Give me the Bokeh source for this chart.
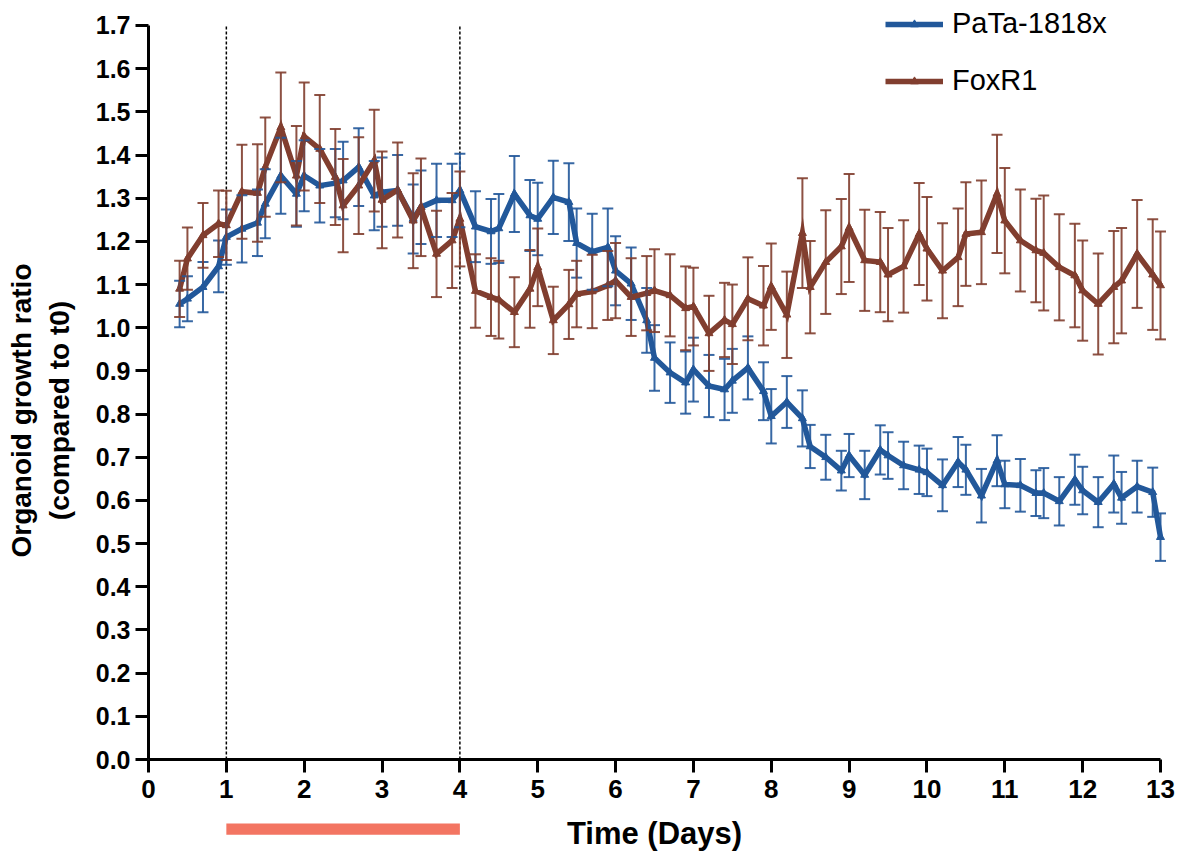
from bokeh.plotting import figure
from bokeh.models import (ColumnDataSource, Range1d, FixedTicker, PrintfTickFormatter,
                          Whisker, TeeHead, Legend, LegendItem, LinearAxis)
from bokeh.embed import file_html
from bokeh.resources import INLINE

# ---------------- data ----------------
times = [0.4, 0.5, 0.7, 0.9,
         1.0, 1.2, 1.4, 1.5, 1.7, 1.9,
         2.0, 2.2, 2.4, 2.5, 2.7, 2.9,
         3.0, 3.2, 3.4, 3.5, 3.7, 3.9,
         4.0, 4.2, 4.4, 4.5, 4.7, 4.9,
         5.0, 5.2, 5.4, 5.5, 5.7, 5.9,
         6.0, 6.2, 6.4, 6.5, 6.7, 6.9,
         7.0, 7.2, 7.4, 7.5, 7.7, 7.9,
         8.0, 8.2, 8.4, 8.5, 8.7, 8.9,
         9.0, 9.2, 9.4, 9.5, 9.7, 9.9,
         10.0, 10.2, 10.4, 10.5, 10.7, 10.9,
         11.0, 11.2, 11.4, 11.5, 11.7, 11.9,
         12.0, 12.2, 12.4, 12.5, 12.7, 12.9,
         13.0]

pata_mean = [1.055, 1.067, 1.094, 1.142,
             1.210, 1.229, 1.243, 1.287, 1.352, 1.310,
             1.352, 1.329, 1.335, 1.341, 1.372, 1.306,
             1.314, 1.318, 1.252, 1.279, 1.295, 1.295,
             1.318, 1.234, 1.223, 1.230, 1.310, 1.260,
             1.252, 1.302, 1.291, 1.196, 1.176, 1.186,
             1.132, 1.102, 1.017, 0.930, 0.896, 0.873,
             0.903, 0.865, 0.857, 0.877, 0.907, 0.853,
             0.795, 0.828, 0.790, 0.725, 0.700, 0.669,
             0.704, 0.659, 0.717, 0.704, 0.681, 0.671,
             0.665, 0.635, 0.689, 0.671, 0.611, 0.692,
             0.637, 0.635, 0.617, 0.617, 0.598, 0.648,
             0.623, 0.596, 0.638, 0.606, 0.632, 0.619,
             0.515]

pata_err = [0.054, 0.052, 0.058, 0.060,
            0.064, 0.078, 0.077, 0.080, 0.088, 0.076,
            0.082, 0.085, 0.079, 0.090, 0.090, 0.080,
            0.080, 0.082, 0.080, 0.085, 0.085, 0.085,
            0.085, 0.082, 0.075, 0.080, 0.088, 0.082,
            0.084, 0.085, 0.090, 0.080, 0.088, 0.090,
            0.080, 0.084, 0.075, 0.076, 0.070, 0.072,
            0.074, 0.072, 0.071, 0.074, 0.073, 0.067,
            0.063, 0.060, 0.065, 0.050, 0.052, 0.046,
            0.050, 0.056, 0.057, 0.054, 0.055, 0.056,
            0.055, 0.060, 0.058, 0.058, 0.062, 0.059,
            0.055, 0.061, 0.053, 0.058, 0.056, 0.058,
            0.055, 0.058, 0.066, 0.060, 0.060, 0.057,
            0.055]

foxr1_mean = [1.090, 1.160, 1.214, 1.241,
              1.237, 1.315, 1.312, 1.372, 1.464, 1.352,
              1.443, 1.414, 1.349, 1.283, 1.329, 1.387,
              1.296, 1.319, 1.248, 1.279, 1.171, 1.202,
              1.252, 1.085, 1.071, 1.065, 1.036, 1.090,
              1.140, 1.017, 1.054, 1.078, 1.084, 1.098,
              1.109, 1.071, 1.080, 1.086, 1.075, 1.045,
              1.049, 0.987, 1.018, 1.008, 1.067, 1.051,
              1.095, 1.030, 1.219, 1.094, 1.152, 1.188,
              1.231, 1.156, 1.152, 1.123, 1.142, 1.217,
              1.183, 1.132, 1.163, 1.217, 1.221, 1.310,
              1.248, 1.202, 1.179, 1.173, 1.140, 1.121,
              1.086, 1.055, 1.094, 1.109, 1.171, 1.123,
              1.098]

foxr1_err = [0.065, 0.072, 0.075, 0.077,
             0.080, 0.109, 0.113, 0.115, 0.127, 0.115,
             0.125, 0.125, 0.111, 0.108, 0.112, 0.118,
             0.112, 0.110, 0.110, 0.113, 0.100, 0.110,
             0.110, 0.085, 0.090, 0.090, 0.081, 0.090,
             0.090, 0.078, 0.080, 0.077, 0.085, 0.080,
             0.087, 0.090, 0.086, 0.096, 0.095, 0.097,
             0.090, 0.087, 0.086, 0.092, 0.096, 0.092,
             0.100, 0.100, 0.127, 0.107, 0.120, 0.110,
             0.125, 0.117, 0.116, 0.108, 0.107, 0.118,
             0.120, 0.110, 0.113, 0.120, 0.120, 0.137,
             0.122, 0.118, 0.120, 0.133, 0.123, 0.120,
             0.116, 0.117, 0.130, 0.122, 0.125, 0.128,
             0.125]

series_names = ["PaTa-1818x", "FoxR1"]
x_ticks = list(range(0, 14))
y_ticks = [0.0, 0.1, 0.2, 0.3, 0.4, 0.5, 0.6, 0.7, 0.8, 0.9,
           1.0, 1.1, 1.2, 1.3, 1.4, 1.5, 1.6, 1.7]
treatment_window = [1, 4]

# ---------------- style ----------------
BLUE = "#22589A"
BROWN = "#813E2F"
SALMON = "#F37562"
FONT = "Liberation Sans"

# the frame covers the whole canvas; axes sit on the zero lines
X_START, X_END = -1.9012, 13.2570
Y_START, Y_END = -0.2177, 1.7579
BAR_TOP, BAR_BOTTOM = -0.148, -0.174
YLABEL_SPAN = (0.0, 1.617)   # span the y title is centred on

p = figure(width=1180, height=853, output_backend="svg", toolbar_location=None,
           x_range=Range1d(X_START, X_END), y_range=Range1d(Y_START, Y_END),
           min_border=0, min_border_left=0, min_border_right=0,
           min_border_top=0, min_border_bottom=0)
p.outline_line_color = None
p.grid.visible = False
p.background_fill_color = "white"

for ax in (p.xaxis[0], p.yaxis[0]):
    ax.fixed_location = 0
    ax.axis_line_width = 3
    ax.axis_line_color = "black"
    ax.major_tick_line_width = 3
    ax.major_tick_line_color = "black"
    ax.major_tick_in = 0
    ax.major_tick_out = 13
    ax.minor_tick_line_color = None
    ax.major_label_text_font = FONT
    ax.major_label_text_font_style = "bold"
    ax.major_label_text_color = "black"
    ax.axis_label_text_font = FONT
    ax.axis_label_text_font_style = "bold"
    ax.axis_label_text_color = "black"

p.xaxis.bounds = (x_ticks[0], x_ticks[-1])
p.xaxis.ticker = FixedTicker(ticks=x_ticks)
p.xaxis.major_label_text_font_size = "26px"
p.xaxis.major_label_standoff = 7
p.xaxis.axis_label = "Time (Days)"
p.xaxis.axis_label_text_font_size = "31px"
p.xaxis.axis_label_standoff = 15

p.yaxis.bounds = (y_ticks[0], y_ticks[-1])
p.yaxis.ticker = FixedTicker(ticks=y_ticks)
p.yaxis.formatter = PrintfTickFormatter(format="%.1f")
p.yaxis.major_label_text_font_size = "25px"
p.yaxis.major_label_standoff = 5

# y title on its own tick-less axis so it can be centred like the original
title_axis = LinearAxis(fixed_location=0, bounds=YLABEL_SPAN,
                        ticker=FixedTicker(ticks=[]),
                        axis_line_color=None, major_tick_line_color=None,
                        minor_tick_line_color=None, major_tick_out=0, major_tick_in=0,
                        major_label_standoff=0,
                        axis_label="Organoid growth ratio\n(compared to t0)",
                        axis_label_text_font=FONT, axis_label_text_font_style="bold",
                        axis_label_text_font_size="28px", axis_label_text_color="black",
                        axis_label_standoff=74)
p.add_layout(title_axis, "left")

# dashed treatment markers
p.segment(x0=treatment_window, y0=[y_ticks[0]] * 2, x1=treatment_window,
          y1=[y_ticks[-1]] * 2, line_color="black", line_width=1.5, line_dash="3 2")

# treatment bar under the axis
p.quad(left=[treatment_window[0]], right=[treatment_window[1]],
       bottom=[BAR_BOTTOM], top=[BAR_TOP], fill_color=SALMON, line_color=None)

items = []
for name, mean, err, color in ((series_names[0], pata_mean, pata_err, BLUE),
                               (series_names[1], foxr1_mean, foxr1_err, BROWN)):
    src = ColumnDataSource(dict(
        t=times, m=mean,
        lo=[m - e for m, e in zip(mean, err)],
        hi=[m + e for m, e in zip(mean, err)]))
    w = Whisker(base="t", upper="hi", lower="lo", source=src,
                line_color=color, line_width=2, line_alpha=0.9, level="glyph",
                upper_head=TeeHead(size=11, line_color=color, line_width=2, line_alpha=0.9),
                lower_head=TeeHead(size=11, line_color=color, line_width=2, line_alpha=0.9))
    p.add_layout(w)
    ln = p.line("t", "m", source=src, line_color=color, line_width=5.5, line_join="miter")
    mk = p.scatter("t", "m", source=src, marker="triangle", size=8,
                   fill_color=color, line_color=color)
    items.append(LegendItem(label=name, renderers=[ln, mk]))

legend = Legend(items=items, location=(885, 756), orientation="vertical",
                label_text_font=FONT, label_text_font_size="29px",
                label_text_color="black", glyph_width=58, glyph_height=20,
                label_standoff=9, spacing=24, padding=0, margin=0,
                border_line_color=None, background_fill_alpha=0)
p.add_layout(legend)

open("out.html", "w").write(file_html(p, INLINE))
